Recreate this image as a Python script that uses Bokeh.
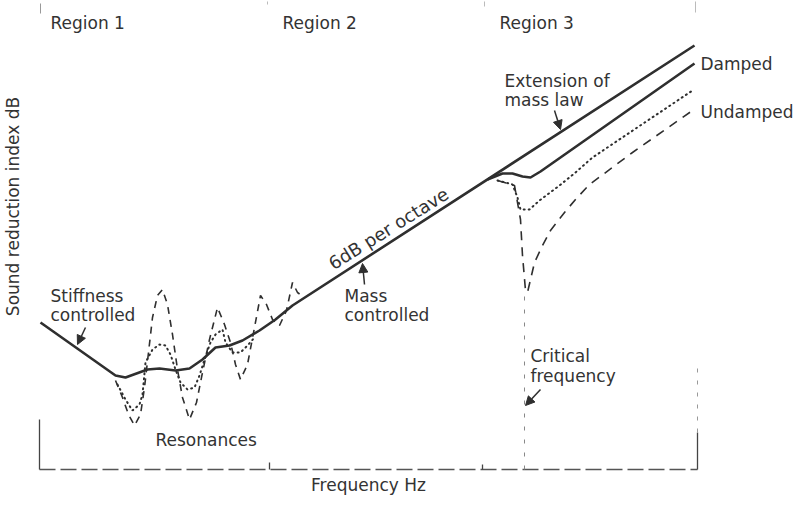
from bokeh.plotting import figure
from bokeh.models import Range1d, Arrow, NormalHead, ColumnDataSource
from bokeh.core.properties import value
from bokeh.embed import file_html
from bokeh.resources import INLINE
import math

# ---- data (arbitrary units: x = relative log-frequency, y = relative level) ----
# Mass-law curve (stiffness region, smoothed resonances, 6 dB/octave mass law, extension)
mass_x = [2, 77, 87, 109, 121, 137, 151, 164, 177, 191, 204, 221, 237, 254, 656]
mass_y = [147, 94, 92, 100, 101, 99, 101, 110, 122, 124, 129, 139, 150, 164, 424]

# Damped panel around / above the critical frequency
damped_x = [449, 464, 474, 484, 492, 502, 656]
damped_y = [290, 296, 296, 293, 292, 298, 406]

# Intermediate (dotted) curve: resonances and coincidence dip
dot_res_x = [79, 87, 94, 101, 104, 107, 114, 121, 127, 132, 137, 142, 149, 156, 161, 166,
             172, 177, 184, 187, 194, 202, 209, 216]
dot_res_y = [85, 70, 59, 65, 75, 107, 120, 125, 124, 115, 100, 87, 80, 82, 94, 110,
             127, 135, 140, 127, 117, 117, 124, 132]
dot_coin_x = [459, 474, 479, 482, 491, 501, 521, 537, 554, 654]
dot_coin_y = [289, 285, 272, 260, 260, 269, 284, 297, 312, 379]

# Undamped (dashed) curve: resonances and coincidence dip
und_res_x = [77, 84, 90, 96, 102, 106, 110, 114, 119, 124, 129, 134, 139, 144, 151, 158,
             164, 171, 179, 186, 192, 197, 202, 209, 216, 222, 228, 234, 241, 248, 254,
             259, 266]
und_res_y = [89, 72, 55, 44, 55, 82, 117, 152, 174, 180, 165, 135, 100, 72, 50, 67,
             97, 130, 162, 145, 127, 105, 90, 105, 142, 174, 165, 150, 144, 159, 187,
             177, 172]
und_coin_x = [459, 476, 482, 484, 487, 489, 496, 504, 512, 526, 537, 551, 594, 654]
und_coin_y = [289, 284, 250, 214, 179, 177, 207, 224, 239, 257, 270, 285, 317, 359]

# Region boundaries and critical frequency (x positions)
region_edges = [1, 231, 444, 659]
critical_freq = 486

INK = "#2f2f2f"
FONT = value("DejaVu Sans")

p = figure(width=794, height=498, x_range=Range1d(-38, 756), y_range=Range1d(-29, 469),
           toolbar_location=None, output_backend="svg", min_border=0)
p.axis.visible = False
p.grid.visible = False
p.outline_line_color = None
p.background_fill_color = "white"
p.border_fill_color = "white"

# ---- bracket frame ----
x0, x1, x2, x3 = region_edges
p.line([x0, x3], [0, 0], line_color="#555555", line_width=1.3, line_dash="16 5")
p.line([x0, x0], [0, 50], line_color="#444444", line_width=1.3)
p.line([x1, x1], [0, 7], line_color="#444444", line_width=1.3)
p.line([x2, x2], [0, 5], line_color="#444444", line_width=1.3)
p.line([x3, x3], [0, 37], line_color="#444444", line_width=1.3)
p.line([x3, x3], [37, 105], line_color="#999999", line_width=1.0, line_dash="4 8")
p.line([critical_freq, critical_freq], [0, 177], line_color="#888888", line_width=1.0,
       line_dash="4 9")
# faint top ticks
p.line([x0 + 1, x0 + 1], [456, 466], line_color="#999999", line_width=1.0)
p.line([x1 - 2, x1 - 2], [465, 468], line_color="#bbbbbb", line_width=1.0)
p.line([x2 + 2, x2 + 2], [463, 468], line_color="#bbbbbb", line_width=1.0)
p.line([x3 - 2, x3 - 2], [457, 468], line_color="#bbbbbb", line_width=1.0)

# ---- curves ----
p.line(und_res_x, und_res_y, line_color=INK, line_width=1.6, line_dash="7 6")
p.line(und_coin_x, und_coin_y, line_color=INK, line_width=1.6, line_dash="9 7")
p.line(dot_res_x, dot_res_y, line_color=INK, line_width=2.0, line_dash="1 4", line_cap="round")
p.line(dot_coin_x, dot_coin_y, line_color=INK, line_width=2.0, line_dash="1 4", line_cap="round")
p.line(mass_x, mass_y, line_color=INK, line_width=2.6)
p.line(damped_x, damped_y, line_color=INK, line_width=2.6)

# ---- arrows ----
arrows = [(47, 142, 39, 125), (326, 185, 324, 206), (516, 359, 522, 340), (502, 80, 487, 64)]
for xs, ys, xe, ye in arrows:
    p.add_layout(Arrow(end=NormalHead(size=9, fill_color=INK, line_color=INK),
                       x_start=xs, y_start=ys, x_end=xe, y_end=ye,
                       line_color=INK, line_width=1.5))

# ---- texts ----
labels = ColumnDataSource(dict(
    x=[12, 244, 461, 12, 12, 306, 306, 117, 492, 492, 466, 466, 662, 662],
    y=[447, 447, 447, 174, 155, 174, 155, 30, 114, 94, 389, 370, 406, 358],
    text=["Region 1", "Region 2", "Region 3", "Stiffness", "controlled", "Mass",
          "controlled", "Resonances", "Critical", "frequency", "Extension of",
          "mass law", "Damped", "Undamped"],
))
p.text(x="x", y="y", text="text", source=labels, text_font=FONT, text_font_size="17px",
       text_color="#333333", text_align="left", text_baseline="middle")

p.text(x=[350], y=[241], text=["6dB per octave"], angle=math.radians(32),
       text_font=FONT, text_font_size="18px", text_color="#333333",
       text_align="center", text_baseline="middle")

p.text(x=[330], y=[-15], text=["Frequency Hz"], text_font=FONT, text_font_size="17px",
       text_color="#333333", text_align="center", text_baseline="middle")
p.text(x=[-26], y=[263], text=["Sound reduction index dB"], angle=math.pi / 2,
       text_font=FONT, text_font_size="17px", text_color="#333333",
       text_align="center", text_baseline="middle")

open("out.html", "w").write(file_html(p, INLINE))
